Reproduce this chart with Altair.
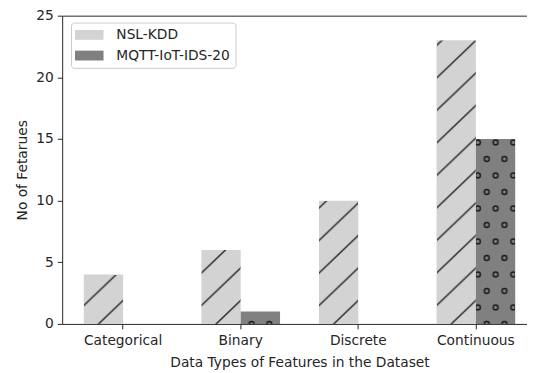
import altair as alt
import pandas as pd
from urllib.parse import quote

categories = ["Categorical", "Binary", "Discrete", "Continuous"]
datasets = ["NSL-KDD", "MQTT-IoT-IDS-20"]
nsl_kdd = [4, 6, 10, 23]
mqtt = [0, 1, 0, 15]

rows = []
for c, a, b in zip(categories, nsl_kdd, mqtt):
    rows.append({"category": c, "dataset": datasets[0], "count": a})
    rows.append({"category": c, "dataset": datasets[1], "count": b})
df = pd.DataFrame(rows)

FONT = "DejaVu Sans"
INK = "#262626"

hatch_lines = (
    '<svg xmlns="http://www.w3.org/2000/svg" width="100%" height="100%">'
    '<defs><pattern id="p" patternUnits="userSpaceOnUse" x="15" y="100%" width="34.5" height="33">'
    '<path d="M-3.45,36.3L37.95,-3.3M-3.45,3.3L3.45,-3.3M31.05,36.3L37.95,29.7" '
    'stroke="#222222" stroke-width="1.4" fill="none"/>'
    '</pattern></defs><rect width="100%" height="100%" fill="url(#p)"/></svg>'
)
hatch_circles = (
    '<svg xmlns="http://www.w3.org/2000/svg" width="100%" height="100%">'
    '<defs><pattern id="q" patternUnits="userSpaceOnUse" x="0" y="100%" width="18" height="33.5">'
    '<g fill="none" stroke="#1a1a1a" stroke-width="1.5">'
    '<circle cx="11" cy="0" r="2.5"/><circle cx="11" cy="33.5" r="2.5"/>'
    '<circle cx="2" cy="16.75" r="2.5"/><circle cx="20" cy="16.75" r="2.5"/>'
    '</g></pattern></defs><rect width="100%" height="100%" fill="url(#q)"/></svg>'
)
url_lines = "data:image/svg+xml;charset=utf-8," + quote(hatch_lines)
url_circles = "data:image/svg+xml;charset=utf-8," + quote(hatch_circles)

xscale = alt.Scale(domain=categories, range=[0, 482], paddingInner=0.331, paddingOuter=0.184)
yscale = alt.Scale(domain=[0, 25], nice=False)
yaxis = alt.Axis(title="No of Fetarues", values=[0, 5, 10, 15, 20, 25],
                 labelPadding=4, titlePadding=6)

base = alt.Chart(df).encode(
    xOffset=alt.XOffset("dataset:N", sort=datasets,
                        scale=alt.Scale(domain=datasets, paddingInner=0, paddingOuter=0)),
    y=alt.Y("count:Q", scale=yscale, axis=yaxis),
)

bars = base.mark_bar().encode(
    x=alt.X("category:N", sort=categories, scale=xscale,
            axis=alt.Axis(title="Data Types of Features in the Dataset", labelAngle=0,
                          labelPadding=5, titlePadding=8)),
    color=alt.Color("dataset:N", sort=datasets,
                    scale=alt.Scale(domain=datasets, range=["#d3d3d3", "#808080"]),
                    legend=alt.Legend(title=None, orient="none", legendX=9, legendY=7,
                                      symbolType="M-2,-0.69L2,-0.69L2,0.69L-2,0.69Z",
                                      symbolSize=210, symbolStrokeWidth=0,
                                      symbolOffset=6,
                                      labelFont=FONT, labelFontSize=14, labelColor=INK,
                                      labelOffset=20, rowPadding=6, padding=5,
                                      fillColor="white", strokeColor="#cccccc",
                                      cornerRadius=3)),
)

hatch = base.mark_image(aspect=False).encode(
    x=alt.X("category:N", sort=categories, scale=xscale,
            axis=alt.Axis(orient="top", labels=False, ticks=False, title=None)),
    y2=alt.datum(0),
    url=alt.condition(alt.datum.dataset == datasets[0],
                      alt.value(url_lines), alt.value(url_circles)),
)

chart = alt.layer(bars, hatch).resolve_axis(x="independent").properties(
    width=472, height=313,
    autosize=alt.AutoSizeParams(type="none"),
    padding={"left": 55, "top": 5, "right": 0, "bottom": 45},
).configure_view(stroke=None).configure_axis(
    grid=False, domainColor=INK, tickColor=INK, tickSize=5, domainWidth=1, tickWidth=1,
    labelFont=FONT, labelFontSize=14, labelColor=INK,
    titleFont=FONT, titleFontSize=14, titleFontWeight="normal", titleColor=INK,
)

chart.save("out.html", embed_options={"renderer": "svg", "actions": False})
